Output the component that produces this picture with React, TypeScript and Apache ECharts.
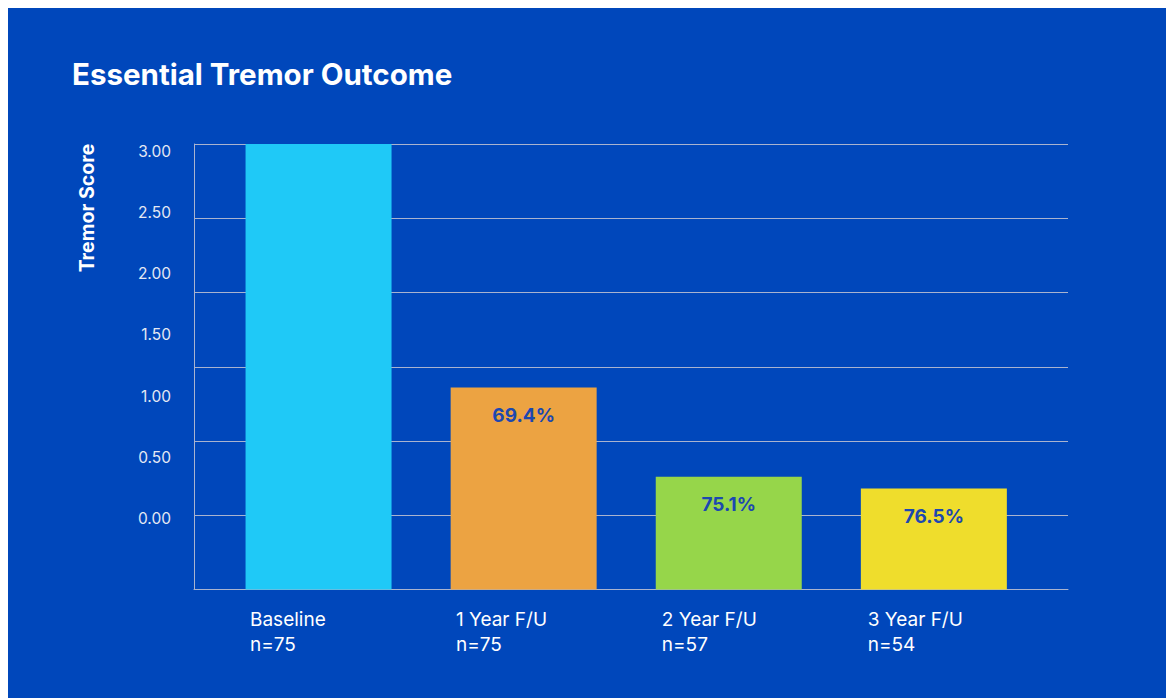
import React, { useEffect, useRef } from "react";
import * as echarts from "echarts";

const categories = ["Baseline", "1 Year F/U", "2 Year F/U", "3 Year F/U"];
const sampleSizes = ["n=75", "n=75", "n=57", "n=54"];
const scores = [3.0, 1.36, 0.76, 0.68];
const reductions = ["", "69.4%", "75.1%", "76.5%"];
const barColors = ["#1fc9f7", "#eca342", "#96d64a", "#efdd2c"];
const titleText = "Essential Tremor Outcome";
const yAxisTitle = "Tremor Score";

const FONT = "Inter, 'Open Sans', sans-serif";
const BG = "#0047bb";
const LINE = "#a9b3cf";

export default function App() {
  const ref = useRef<HTMLDivElement>(null);
  useEffect(() => {
    const chart = echarts.init(ref.current!, null, { renderer: "svg" });
    chart.setOption({
      animation: false,
      backgroundColor: BG,
      grid: [
        { left: 186, top: 136, width: 874, height: 445.5 },
        { left: 208, top: 136, width: 820.4, height: 445.5 },
        { left: 171, top: 143, width: 10, height: 367.7 },
        { left: 242, top: 136, width: 617.7, height: 445.5 },
      ],
      xAxis: [
        {
          gridIndex: 0, type: "value", min: 0, max: 1,
          axisLine: { show: true, lineStyle: { color: LINE, width: 1 } },
          axisTick: { show: false }, axisLabel: { show: false }, splitLine: { show: false },
        },
        { gridIndex: 1, type: "category", data: categories, show: false },
        { gridIndex: 2, type: "value", show: false },
        {
          gridIndex: 3, type: "category", data: categories, boundaryGap: false,
          axisLine: { show: false }, axisTick: { show: false }, splitLine: { show: false },
          axisLabel: {
            interval: 0, align: "left", margin: 17, color: "#ffffff",
            fontSize: 19, lineHeight: 25, fontFamily: FONT,
            formatter: (v: string, i: number) => `${v}\n${sampleSizes[i]}`,
          },
        },
      ],
      yAxis: [
        {
          gridIndex: 0, type: "value", min: 0, max: 3, interval: 0.5,
          axisLine: { show: true, lineStyle: { color: LINE, width: 1 } },
          axisTick: { show: false }, axisLabel: { show: false },
          splitLine: { show: true, lineStyle: { color: LINE, width: 1 } },
        },
        { gridIndex: 1, type: "value", min: 0, max: 3, show: false },
        {
          gridIndex: 2, type: "value", min: 0, max: 3, interval: 0.5,
          axisLine: { show: false }, axisTick: { show: false }, splitLine: { show: false },
          axisLabel: {
            margin: 8, color: "#e4e9f4", fontSize: 15.5, fontFamily: FONT,
            formatter: (v: number) => v.toFixed(2),
          },
        },
        { gridIndex: 3, type: "value", show: false },
      ],
      series: [
        {
          type: "bar",
          xAxisIndex: 1,
          yAxisIndex: 1,
          barWidth: 146,
          z: 5,
          data: scores.map((v, i) => ({
            value: v,
            itemStyle: { color: barColors[i] },
            label: { show: reductions[i] !== "" },
          })),
          label: {
            position: "insideTop",
            distance: 18,
            color: "#1c48b0",
            fontSize: 19,
            fontWeight: "bold",
            fontFamily: FONT,
            formatter: (p: any) => reductions[p.dataIndex],
          },
        },
      ],
      graphic: [
        {
          type: "text",
          x: 64,
          y: 66,
          style: {
            text: titleText,
            fill: "#ffffff",
            font: `bold 29.5px ${FONT}`,
            align: "left",
            verticalAlign: "middle",
            textAlign: "left",
            textVerticalAlign: "middle",
          },
        },
        {
          type: "text",
          x: 79,
          y: 200,
          rotation: Math.PI / 2,
          style: {
            text: yAxisTitle,
            fill: "#ffffff",
            font: `bold 19.5px ${FONT}`,
            align: "center",
            verticalAlign: "middle",
            textAlign: "center",
            textVerticalAlign: "middle",
          },
        },
      ],
    });
    return () => chart.dispose();
  }, []);
  return <div ref={ref} style={{ width: 1166, height: 690, background: BG }} />;
}
